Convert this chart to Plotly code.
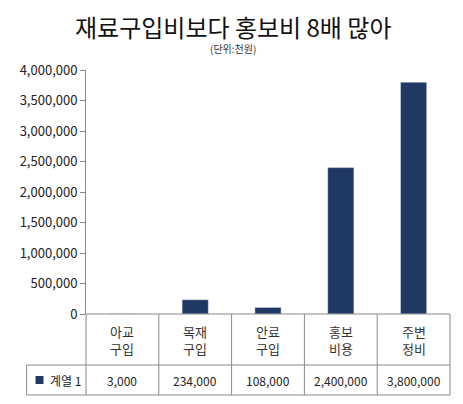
import plotly.graph_objects as go

categories = ["아교<br>구입", "목재<br>구입", "안료<br>구입", "홍보<br>비용", "주변<br>정비"]
values = [3000, 234000, 108000, 2400000, 3800000]
series_name = "계열 1"

font = "Noto Sans CJK KR"
navy = "#1f3864"

fig = go.Figure(go.Bar(x=list(range(5)), y=values, marker_color=navy, width=0.36))

# page has an 8px body margin, so figure coords = screen coords - 8
OFF = 8
W, H = 463, 404
L, R, T, B = 82 - OFF, W - 450 + OFF, 70 - OFF, H - 314 + OFF
pw, ph = W - L - R, H - T - B

def px_x(p):
    return (p - OFF - L) / pw

def px_y(p):
    return (H - B - (p - OFF)) / ph

shapes = []
line = dict(color="#888", width=1)
for i in range(6):
    shapes.append(dict(type="line", xref="paper", yref="paper",
                       x0=i / 5, x1=i / 5, y0=0, y1=px_y(395), line=line))
for yy in (365, 395):
    shapes.append(dict(type="line", xref="paper", yref="paper",
                       x0=px_x(22), x1=1, y0=px_y(yy), y1=px_y(yy), line=line))
shapes.append(dict(type="line", xref="paper", yref="paper",
                   x0=px_x(22), x1=px_x(22), y0=px_y(365), y1=px_y(395), line=line))
shapes.append(dict(type="line", xref="paper", yref="paper",
                   x0=0, x1=1, y0=0, y1=0, line=line))
shapes.append(dict(type="rect", xref="paper", yref="paper",
                   x0=px_x(31), x1=px_x(39), y0=px_y(376), y1=px_y(384),
                   fillcolor=navy, line=dict(width=0)))

def note(x, y, text, size, color="#222", xanchor="center"):
    return dict(x=x, y=y, xref="paper", yref="paper", text=text, showarrow=False,
                xanchor=xanchor, yanchor="middle", font=dict(size=size, color=color))

ann = []
for i, c in enumerate(categories):
    ann.append(note((i + 0.5) / 5, px_y(340), c, 13, "#333"))
    ann.append(note((i + 0.5) / 5, px_y(380), f"{values[i]:,}", 12))
ann.append(note(px_x(44), px_y(380), series_name, 12, xanchor="left"))
ann.append(note(px_x(231), px_y(26), "재료구입비보다 홍보비 8배 많아", 24, "#111"))
ann.append(note(px_x(231), px_y(48), "(단위:천원)", 10, "#333"))

fig.update_layout(
    width=W, height=H, margin=dict(l=L, r=R, t=T, b=B),
    paper_bgcolor="white", plot_bgcolor="white",
    font=dict(family=font), showlegend=False,
    shapes=shapes, annotations=ann,
    xaxis=dict(range=[-0.5, 4.5], showticklabels=False, showgrid=False,
               zeroline=False, fixedrange=True),
    yaxis=dict(range=[0, 4000000], dtick=500000, tickformat=",d",
               showgrid=False, zeroline=False, showline=True, linecolor="#888",
               ticks="outside", ticklen=5, tickcolor="#888",
               tickfont=dict(size=13, color="#222")),
)

fig.write_html("out.html")
